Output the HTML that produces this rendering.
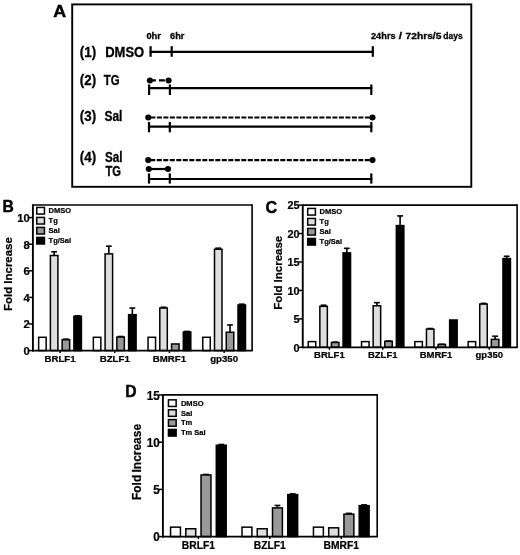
<!DOCTYPE html>
<html lang="en"><head><meta charset="utf-8"><title>Figure</title>
<style>html,body{margin:0;padding:0;background:#fff;}body{width:520px;height:555px;overflow:hidden;}svg{display:block;}text{font-family:"Liberation Sans", Arial, Helvetica, sans-serif;font-weight:bold;fill:#000;}</style></head><body>
<svg width="520" height="555" viewBox="0 0 520 555">
<rect x="0" y="0" width="520" height="555" fill="#fff"/>
<g id="panelA">
<text x="53.2" y="17" font-size="16.5" text-anchor="start" textLength="12.9" lengthAdjust="spacingAndGlyphs" stroke="#000" stroke-width="0.45">A</text>
<rect x="72.2" y="4.4" width="399.1" height="182.4" fill="none" stroke="#000" stroke-width="1.9"/>
<text x="146.4" y="39.4" font-size="9.4" text-anchor="start" textLength="14.5" lengthAdjust="spacingAndGlyphs" stroke="#000" stroke-width="0.3">0hr</text>
<text x="170.1" y="39.4" font-size="9.4" text-anchor="start" textLength="14.3" lengthAdjust="spacingAndGlyphs" stroke="#000" stroke-width="0.3">6hr</text>
<text x="371.0" y="39.4" font-size="9.4" text-anchor="start" textLength="24.6" lengthAdjust="spacingAndGlyphs" stroke="#000" stroke-width="0.3">24hrs</text>
<text x="398.7" y="39.4" font-size="9.4" text-anchor="start" textLength="3.3" lengthAdjust="spacingAndGlyphs" stroke="#000" stroke-width="0.3">/</text>
<text x="405.6" y="39.4" font-size="9.4" text-anchor="start" textLength="35.8" lengthAdjust="spacingAndGlyphs" stroke="#000" stroke-width="0.3">72hrs/5</text>
<text x="443.3" y="39.4" font-size="9.4" text-anchor="start" textLength="19.4" lengthAdjust="spacingAndGlyphs" stroke="#000" stroke-width="0.3">days</text>
<text x="79.8" y="56.7" font-size="13.8" text-anchor="start" textLength="16.3" lengthAdjust="spacingAndGlyphs" stroke="#000" stroke-width="0.3">(1)</text>
<text x="105.2" y="56.7" font-size="13.8" text-anchor="start" textLength="39" lengthAdjust="spacingAndGlyphs" stroke="#000" stroke-width="0.3">DMSO</text>
<line x1="149.6" y1="51.9" x2="373.8" y2="51.9" stroke="#000" stroke-width="2.2" />
<line x1="150.6" y1="46.2" x2="150.6" y2="56.8" stroke="#000" stroke-width="2.2" />
<line x1="171.7" y1="46.2" x2="171.7" y2="56.8" stroke="#000" stroke-width="2.2" />
<line x1="372.8" y1="46.2" x2="372.8" y2="56.8" stroke="#000" stroke-width="2.2" />
<text x="79.8" y="85.4" font-size="13.8" text-anchor="start" textLength="16.3" lengthAdjust="spacingAndGlyphs" stroke="#000" stroke-width="0.3">(2)</text>
<text x="103.8" y="85.4" font-size="13.8" text-anchor="start" textLength="15.8" lengthAdjust="spacingAndGlyphs" stroke="#000" stroke-width="0.3">TG</text>
<circle cx="149.9" cy="80.45" r="3.05" fill="#000"/>
<circle cx="168.6" cy="80.45" r="3.05" fill="#000"/>
<line x1="149.9" y1="80.45" x2="168" y2="80.45" stroke="#000" stroke-width="2.2" stroke-dasharray="6 3"/>
<line x1="148.1" y1="88.2" x2="372.3" y2="88.2" stroke="#000" stroke-width="2.2" />
<line x1="149.1" y1="84.5" x2="149.1" y2="95" stroke="#000" stroke-width="2.2" />
<line x1="169.9" y1="84.5" x2="169.9" y2="95" stroke="#000" stroke-width="2.2" />
<line x1="371.3" y1="84.5" x2="371.3" y2="95" stroke="#000" stroke-width="2.2" />
<text x="79.8" y="120.9" font-size="13.8" text-anchor="start" textLength="16.3" lengthAdjust="spacingAndGlyphs" stroke="#000" stroke-width="0.3">(3)</text>
<text x="104.4" y="120.9" font-size="13.8" text-anchor="start" textLength="18" lengthAdjust="spacingAndGlyphs" stroke="#000" stroke-width="0.3">Sal</text>
<circle cx="148.3" cy="117.5" r="3.05" fill="#000"/>
<circle cx="372.5" cy="117.5" r="3.05" fill="#000"/>
<line x1="148.3" y1="117.5" x2="372.5" y2="117.5" stroke="#000" stroke-width="2.2" stroke-dasharray="5 1.5" stroke-dashoffset="-2.1"/>
<line x1="148.0" y1="126.6" x2="372.3" y2="126.6" stroke="#000" stroke-width="2.2" />
<line x1="149" y1="121.9" x2="149" y2="132.3" stroke="#000" stroke-width="2.2" />
<line x1="169.8" y1="121.9" x2="169.8" y2="132.3" stroke="#000" stroke-width="2.2" />
<line x1="371.3" y1="121.9" x2="371.3" y2="132.3" stroke="#000" stroke-width="2.2" />
<text x="79.8" y="162.3" font-size="13.8" text-anchor="start" textLength="16.3" lengthAdjust="spacingAndGlyphs" stroke="#000" stroke-width="0.3">(4)</text>
<text x="104.9" y="162.3" font-size="13.8" text-anchor="start" textLength="17.5" lengthAdjust="spacingAndGlyphs" stroke="#000" stroke-width="0.3">Sal</text>
<text x="105.4" y="175.5" font-size="13.8" text-anchor="start" textLength="15.6" lengthAdjust="spacingAndGlyphs" stroke="#000" stroke-width="0.3">TG</text>
<circle cx="148.2" cy="160.1" r="3.05" fill="#000"/>
<circle cx="372.5" cy="160.1" r="3.05" fill="#000"/>
<line x1="148.2" y1="160.1" x2="372.5" y2="160.1" stroke="#000" stroke-width="2.2" stroke-dasharray="5 1.5" stroke-dashoffset="-2.1"/>
<circle cx="148.8" cy="169.0" r="3.05" fill="#000"/>
<circle cx="168.0" cy="169.0" r="3.05" fill="#000"/>
<line x1="148.8" y1="169.0" x2="168.0" y2="169.0" stroke="#000" stroke-width="2.2" />
<line x1="148.0" y1="179" x2="372.3" y2="179" stroke="#000" stroke-width="2.2" />
<line x1="149" y1="173.4" x2="149" y2="183.6" stroke="#000" stroke-width="2.2" />
<line x1="169.8" y1="173.4" x2="169.8" y2="183.6" stroke="#000" stroke-width="2.2" />
<line x1="371.3" y1="173.4" x2="371.3" y2="183.6" stroke="#000" stroke-width="2.2" />
</g>
<g id="panelB">
<text transform="translate(2.40,212.00) scale(0.95,1)" font-size="16.5" text-anchor="start" stroke="#000" stroke-width="0.45" >B</text>
<line x1="32.9" y1="205.0" x2="252.1" y2="205.0" stroke="#000" stroke-width="1.65" />
<line x1="252.1" y1="204.2" x2="252.1" y2="350.6" stroke="#000" stroke-width="1.6" />
<rect x="38.65" y="337.30" width="7.50" height="13.30" fill="#ffffff" stroke="#000" stroke-width="1.5"/>
<line x1="54.15" y1="255.50" x2="54.15" y2="251.78" stroke="#000" stroke-width="1.6" />
<line x1="51.25" y1="251.78" x2="57.05" y2="251.78" stroke="#000" stroke-width="1.6" />
<rect x="50.40" y="255.50" width="7.50" height="95.10" fill="#dedede" stroke="#000" stroke-width="1.5"/>
<line x1="65.90" y1="339.69" x2="65.90" y2="339.16" stroke="#000" stroke-width="1.6" />
<line x1="63.00" y1="339.16" x2="68.80" y2="339.16" stroke="#000" stroke-width="1.6" />
<rect x="62.15" y="339.69" width="7.50" height="10.91" fill="#999999" stroke="#000" stroke-width="1.5"/>
<line x1="77.65" y1="316.29" x2="77.65" y2="315.75" stroke="#000" stroke-width="1.6" />
<line x1="74.75" y1="315.75" x2="80.55" y2="315.75" stroke="#000" stroke-width="1.6" />
<rect x="73.90" y="316.29" width="7.50" height="34.31" fill="#000000" stroke="#000" stroke-width="1.5"/>
<rect x="93.35" y="337.30" width="7.50" height="13.30" fill="#ffffff" stroke="#000" stroke-width="1.5"/>
<line x1="108.85" y1="253.91" x2="108.85" y2="246.20" stroke="#000" stroke-width="1.6" />
<line x1="105.95" y1="246.20" x2="111.75" y2="246.20" stroke="#000" stroke-width="1.6" />
<rect x="105.10" y="253.91" width="7.50" height="96.69" fill="#dedede" stroke="#000" stroke-width="1.5"/>
<line x1="120.60" y1="337.03" x2="120.60" y2="336.50" stroke="#000" stroke-width="1.6" />
<line x1="117.70" y1="336.50" x2="123.50" y2="336.50" stroke="#000" stroke-width="1.6" />
<rect x="116.85" y="337.03" width="7.50" height="13.57" fill="#999999" stroke="#000" stroke-width="1.5"/>
<line x1="132.35" y1="314.69" x2="132.35" y2="308.04" stroke="#000" stroke-width="1.6" />
<line x1="129.45" y1="308.04" x2="135.25" y2="308.04" stroke="#000" stroke-width="1.6" />
<rect x="128.60" y="314.69" width="7.50" height="35.91" fill="#000000" stroke="#000" stroke-width="1.5"/>
<rect x="148.05" y="337.30" width="7.50" height="13.30" fill="#ffffff" stroke="#000" stroke-width="1.5"/>
<line x1="163.55" y1="308.04" x2="163.55" y2="307.24" stroke="#000" stroke-width="1.6" />
<line x1="160.65" y1="307.24" x2="166.45" y2="307.24" stroke="#000" stroke-width="1.6" />
<rect x="159.80" y="308.04" width="7.50" height="42.56" fill="#dedede" stroke="#000" stroke-width="1.5"/>
<rect x="171.55" y="343.95" width="7.50" height="6.65" fill="#999999" stroke="#000" stroke-width="1.5"/>
<line x1="187.05" y1="331.98" x2="187.05" y2="331.45" stroke="#000" stroke-width="1.6" />
<line x1="184.15" y1="331.45" x2="189.95" y2="331.45" stroke="#000" stroke-width="1.6" />
<rect x="183.30" y="331.98" width="7.50" height="18.62" fill="#000000" stroke="#000" stroke-width="1.5"/>
<rect x="202.75" y="337.30" width="7.50" height="13.30" fill="#ffffff" stroke="#000" stroke-width="1.5"/>
<line x1="218.25" y1="249.25" x2="218.25" y2="248.19" stroke="#000" stroke-width="1.6" />
<line x1="215.35" y1="248.19" x2="221.15" y2="248.19" stroke="#000" stroke-width="1.6" />
<rect x="214.50" y="249.25" width="7.50" height="101.35" fill="#dedede" stroke="#000" stroke-width="1.5"/>
<line x1="230.00" y1="332.25" x2="230.00" y2="324.93" stroke="#000" stroke-width="1.6" />
<line x1="227.10" y1="324.93" x2="232.90" y2="324.93" stroke="#000" stroke-width="1.6" />
<rect x="226.25" y="332.25" width="7.50" height="18.35" fill="#999999" stroke="#000" stroke-width="1.5"/>
<line x1="241.75" y1="304.98" x2="241.75" y2="304.18" stroke="#000" stroke-width="1.6" />
<line x1="238.85" y1="304.18" x2="244.65" y2="304.18" stroke="#000" stroke-width="1.6" />
<rect x="238.00" y="304.98" width="7.50" height="45.62" fill="#000000" stroke="#000" stroke-width="1.5"/>
<line x1="32.9" y1="204.3" x2="32.9" y2="351.5" stroke="#000" stroke-width="1.9" />
<line x1="31.95" y1="350.6" x2="252.79999999999998" y2="350.6" stroke="#000" stroke-width="1.8" />
<line x1="28.7" y1="350.60" x2="32.9" y2="350.60" stroke="#000" stroke-width="1.5" />
<text transform="translate(29.70,355.08) scale(0.97,1)" font-size="11.6" text-anchor="end" stroke="#000" stroke-width="0.22" >0</text>
<line x1="28.7" y1="324.00" x2="32.9" y2="324.00" stroke="#000" stroke-width="1.5" />
<text transform="translate(29.70,328.48) scale(0.97,1)" font-size="11.6" text-anchor="end" stroke="#000" stroke-width="0.22" >2</text>
<line x1="28.7" y1="297.40" x2="32.9" y2="297.40" stroke="#000" stroke-width="1.5" />
<text transform="translate(29.70,301.88) scale(0.97,1)" font-size="11.6" text-anchor="end" stroke="#000" stroke-width="0.22" >4</text>
<line x1="28.7" y1="270.80" x2="32.9" y2="270.80" stroke="#000" stroke-width="1.5" />
<text transform="translate(29.70,275.28) scale(0.97,1)" font-size="11.6" text-anchor="end" stroke="#000" stroke-width="0.22" >6</text>
<line x1="28.7" y1="244.20" x2="32.9" y2="244.20" stroke="#000" stroke-width="1.5" />
<text transform="translate(29.70,248.68) scale(0.97,1)" font-size="11.6" text-anchor="end" stroke="#000" stroke-width="0.22" >8</text>
<line x1="28.7" y1="217.60" x2="32.9" y2="217.60" stroke="#000" stroke-width="1.5" />
<text transform="translate(29.70,222.08) scale(0.97,1)" font-size="11.6" text-anchor="end" stroke="#000" stroke-width="0.22" >10</text>
<line x1="60.02" y1="350.6" x2="60.02" y2="353.1" stroke="#000" stroke-width="1.5" />
<text transform="translate(60.02,361.80) scale(1.0,1)" font-size="9.7" text-anchor="middle" stroke="#000" stroke-width="0.22" >BRLF1</text>
<line x1="114.72" y1="350.6" x2="114.72" y2="353.1" stroke="#000" stroke-width="1.5" />
<text transform="translate(114.72,361.80) scale(1.0,1)" font-size="9.7" text-anchor="middle" stroke="#000" stroke-width="0.22" >BZLF1</text>
<line x1="169.43" y1="350.6" x2="169.43" y2="353.1" stroke="#000" stroke-width="1.5" />
<text transform="translate(169.43,361.80) scale(1.0,1)" font-size="9.7" text-anchor="middle" stroke="#000" stroke-width="0.22" >BMRF1</text>
<line x1="224.13" y1="350.6" x2="224.13" y2="353.1" stroke="#000" stroke-width="1.5" />
<text transform="translate(224.13,361.80) scale(1.0,1)" font-size="9.7" text-anchor="middle" stroke="#000" stroke-width="0.22" >gp350</text>
<text transform="translate(12.20,274.10) rotate(-90) scale(1.015,1)" font-size="11.3" text-anchor="middle" stroke="#000" stroke-width="0.22" word-spacing="0">Fold Increase</text>
<rect x="36.75" y="207.45" width="7.70" height="6.60" fill="#ffffff" stroke="#000" stroke-width="1.5"/>
<text transform="translate(48.60,213.25) scale(0.99,1)" font-size="7.6" text-anchor="start" stroke="#000" stroke-width="0.22" >DMSO</text>
<rect x="36.75" y="217.43" width="7.70" height="6.60" fill="#dedede" stroke="#000" stroke-width="1.5"/>
<text transform="translate(48.60,223.23) scale(0.99,1)" font-size="7.6" text-anchor="start" stroke="#000" stroke-width="0.22" >Tg</text>
<rect x="36.75" y="227.41" width="7.70" height="6.60" fill="#999999" stroke="#000" stroke-width="1.5"/>
<text transform="translate(48.60,233.21) scale(0.99,1)" font-size="7.6" text-anchor="start" stroke="#000" stroke-width="0.22" >Sal</text>
<rect x="36.75" y="237.39" width="7.70" height="6.60" fill="#000000" stroke="#000" stroke-width="1.5"/>
<text transform="translate(48.60,243.19) scale(0.99,1)" font-size="7.6" text-anchor="start" stroke="#000" stroke-width="0.22" >Tg/Sal</text>
</g>
<g id="panelC">
<text transform="translate(265.40,212.70) scale(0.95,1)" font-size="17" text-anchor="start" stroke="#000" stroke-width="0.45" >C</text>
<line x1="302.75" y1="205.1" x2="517.1" y2="205.1" stroke="#000" stroke-width="1.65" />
<line x1="517.1" y1="204.29999999999998" x2="517.1" y2="347.3" stroke="#000" stroke-width="1.6" />
<rect x="308.25" y="341.61" width="7.50" height="5.69" fill="#ffffff" stroke="#000" stroke-width="1.5"/>
<line x1="323.60" y1="306.35" x2="323.60" y2="305.21" stroke="#000" stroke-width="1.6" />
<line x1="320.70" y1="305.21" x2="326.50" y2="305.21" stroke="#000" stroke-width="1.6" />
<rect x="319.85" y="306.35" width="7.50" height="40.95" fill="#dedede" stroke="#000" stroke-width="1.5"/>
<line x1="335.20" y1="342.47" x2="335.20" y2="342.18" stroke="#000" stroke-width="1.6" />
<line x1="332.30" y1="342.18" x2="338.10" y2="342.18" stroke="#000" stroke-width="1.6" />
<rect x="331.45" y="342.47" width="7.50" height="4.83" fill="#999999" stroke="#000" stroke-width="1.5"/>
<line x1="346.80" y1="252.88" x2="346.80" y2="248.33" stroke="#000" stroke-width="1.6" />
<line x1="343.90" y1="248.33" x2="349.70" y2="248.33" stroke="#000" stroke-width="1.6" />
<rect x="343.05" y="252.88" width="7.50" height="94.42" fill="#000000" stroke="#000" stroke-width="1.5"/>
<rect x="361.55" y="341.61" width="7.50" height="5.69" fill="#ffffff" stroke="#000" stroke-width="1.5"/>
<line x1="376.90" y1="305.78" x2="376.90" y2="302.65" stroke="#000" stroke-width="1.6" />
<line x1="374.00" y1="302.65" x2="379.80" y2="302.65" stroke="#000" stroke-width="1.6" />
<rect x="373.15" y="305.78" width="7.50" height="41.52" fill="#dedede" stroke="#000" stroke-width="1.5"/>
<line x1="388.50" y1="341.33" x2="388.50" y2="341.04" stroke="#000" stroke-width="1.6" />
<line x1="385.60" y1="341.04" x2="391.40" y2="341.04" stroke="#000" stroke-width="1.6" />
<rect x="384.75" y="341.33" width="7.50" height="5.97" fill="#999999" stroke="#000" stroke-width="1.5"/>
<line x1="400.10" y1="225.58" x2="400.10" y2="215.91" stroke="#000" stroke-width="1.6" />
<line x1="397.20" y1="215.91" x2="403.00" y2="215.91" stroke="#000" stroke-width="1.6" />
<rect x="396.35" y="225.58" width="7.50" height="121.72" fill="#000000" stroke="#000" stroke-width="1.5"/>
<rect x="414.85" y="341.61" width="7.50" height="5.69" fill="#ffffff" stroke="#000" stroke-width="1.5"/>
<line x1="430.20" y1="329.10" x2="430.20" y2="328.53" stroke="#000" stroke-width="1.6" />
<line x1="427.30" y1="328.53" x2="433.10" y2="328.53" stroke="#000" stroke-width="1.6" />
<rect x="426.45" y="329.10" width="7.50" height="18.20" fill="#dedede" stroke="#000" stroke-width="1.5"/>
<line x1="441.80" y1="344.46" x2="441.80" y2="344.29" stroke="#000" stroke-width="1.6" />
<line x1="438.90" y1="344.29" x2="444.70" y2="344.29" stroke="#000" stroke-width="1.6" />
<rect x="438.05" y="344.46" width="7.50" height="2.84" fill="#999999" stroke="#000" stroke-width="1.5"/>
<rect x="449.65" y="320.00" width="7.50" height="27.30" fill="#000000" stroke="#000" stroke-width="1.5"/>
<rect x="468.15" y="341.61" width="7.50" height="5.69" fill="#ffffff" stroke="#000" stroke-width="1.5"/>
<line x1="483.50" y1="304.07" x2="483.50" y2="303.39" stroke="#000" stroke-width="1.6" />
<line x1="480.60" y1="303.39" x2="486.40" y2="303.39" stroke="#000" stroke-width="1.6" />
<rect x="479.75" y="304.07" width="7.50" height="43.23" fill="#dedede" stroke="#000" stroke-width="1.5"/>
<line x1="495.10" y1="339.34" x2="495.10" y2="336.21" stroke="#000" stroke-width="1.6" />
<line x1="492.20" y1="336.21" x2="498.00" y2="336.21" stroke="#000" stroke-width="1.6" />
<rect x="491.35" y="339.34" width="7.50" height="7.96" fill="#999999" stroke="#000" stroke-width="1.5"/>
<line x1="506.70" y1="258.57" x2="506.70" y2="256.29" stroke="#000" stroke-width="1.6" />
<line x1="503.80" y1="256.29" x2="509.60" y2="256.29" stroke="#000" stroke-width="1.6" />
<rect x="502.95" y="258.57" width="7.50" height="88.73" fill="#000000" stroke="#000" stroke-width="1.5"/>
<line x1="302.75" y1="204.4" x2="302.75" y2="348.2" stroke="#000" stroke-width="1.9" />
<line x1="301.8" y1="347.3" x2="517.8000000000001" y2="347.3" stroke="#000" stroke-width="1.8" />
<line x1="298.55" y1="347.30" x2="302.75" y2="347.30" stroke="#000" stroke-width="1.5" />
<text transform="translate(299.55,351.63) scale(0.97,1)" font-size="11.2" text-anchor="end" stroke="#000" stroke-width="0.22" >0</text>
<line x1="298.55" y1="318.86" x2="302.75" y2="318.86" stroke="#000" stroke-width="1.5" />
<text transform="translate(299.55,323.19) scale(0.97,1)" font-size="11.2" text-anchor="end" stroke="#000" stroke-width="0.22" >5</text>
<line x1="298.55" y1="290.42" x2="302.75" y2="290.42" stroke="#000" stroke-width="1.5" />
<text transform="translate(299.55,294.75) scale(0.97,1)" font-size="11.2" text-anchor="end" stroke="#000" stroke-width="0.22" >10</text>
<line x1="298.55" y1="261.98" x2="302.75" y2="261.98" stroke="#000" stroke-width="1.5" />
<text transform="translate(299.55,266.31) scale(0.97,1)" font-size="11.2" text-anchor="end" stroke="#000" stroke-width="0.22" >15</text>
<line x1="298.55" y1="233.54" x2="302.75" y2="233.54" stroke="#000" stroke-width="1.5" />
<text transform="translate(299.55,237.87) scale(0.97,1)" font-size="11.2" text-anchor="end" stroke="#000" stroke-width="0.22" >20</text>
<line x1="298.55" y1="205.10" x2="302.75" y2="205.10" stroke="#000" stroke-width="1.5" />
<text transform="translate(299.55,209.43) scale(0.97,1)" font-size="11.2" text-anchor="end" stroke="#000" stroke-width="0.22" >25</text>
<line x1="329.40" y1="347.3" x2="329.40" y2="349.8" stroke="#000" stroke-width="1.5" />
<text transform="translate(329.40,358.30) scale(1.0,1)" font-size="9.5" text-anchor="middle" stroke="#000" stroke-width="0.22" >BRLF1</text>
<line x1="382.70" y1="347.3" x2="382.70" y2="349.8" stroke="#000" stroke-width="1.5" />
<text transform="translate(382.70,358.30) scale(1.0,1)" font-size="9.5" text-anchor="middle" stroke="#000" stroke-width="0.22" >BZLF1</text>
<line x1="436.00" y1="347.3" x2="436.00" y2="349.8" stroke="#000" stroke-width="1.5" />
<text transform="translate(436.00,358.30) scale(1.0,1)" font-size="9.5" text-anchor="middle" stroke="#000" stroke-width="0.22" >BMRF1</text>
<line x1="489.30" y1="347.3" x2="489.30" y2="349.8" stroke="#000" stroke-width="1.5" />
<text transform="translate(489.30,358.30) scale(1.0,1)" font-size="9.5" text-anchor="middle" stroke="#000" stroke-width="0.22" >gp350</text>
<text transform="translate(281.90,272.80) rotate(-90) scale(1.015,1)" font-size="11.3" text-anchor="middle" stroke="#000" stroke-width="0.22" word-spacing="0">Fold Increase</text>
<rect x="307.70" y="208.45" width="7.70" height="6.60" fill="#ffffff" stroke="#000" stroke-width="1.5"/>
<text transform="translate(319.55,214.25) scale(0.99,1)" font-size="7.6" text-anchor="start" stroke="#000" stroke-width="0.22" >DMSO</text>
<rect x="307.70" y="218.45" width="7.70" height="6.60" fill="#dedede" stroke="#000" stroke-width="1.5"/>
<text transform="translate(319.55,224.25) scale(0.99,1)" font-size="7.6" text-anchor="start" stroke="#000" stroke-width="0.22" >Tg</text>
<rect x="307.70" y="228.45" width="7.70" height="6.60" fill="#999999" stroke="#000" stroke-width="1.5"/>
<text transform="translate(319.55,234.25) scale(0.99,1)" font-size="7.6" text-anchor="start" stroke="#000" stroke-width="0.22" >Sal</text>
<rect x="307.70" y="238.45" width="7.70" height="6.60" fill="#000000" stroke="#000" stroke-width="1.5"/>
<text transform="translate(319.55,244.25) scale(0.99,1)" font-size="7.6" text-anchor="start" stroke="#000" stroke-width="0.22" >Tg/Sal</text>
</g>
<g id="panelD">
<text transform="translate(125.30,397.10) scale(0.95,1)" font-size="16.5" text-anchor="start" stroke="#000" stroke-width="0.45" >D</text>
<line x1="162.9" y1="394.9" x2="377.2" y2="394.9" stroke="#000" stroke-width="1.65" />
<line x1="377.2" y1="394.09999999999997" x2="377.2" y2="536.6" stroke="#000" stroke-width="1.6" />
<rect x="170.55" y="527.16" width="9.90" height="9.44" fill="#ffffff" stroke="#000" stroke-width="1.5"/>
<rect x="185.80" y="528.76" width="9.90" height="7.84" fill="#dedede" stroke="#000" stroke-width="1.5"/>
<line x1="206.00" y1="474.96" x2="206.00" y2="474.48" stroke="#000" stroke-width="1.6" />
<line x1="203.10" y1="474.48" x2="208.90" y2="474.48" stroke="#000" stroke-width="1.6" />
<rect x="201.05" y="474.96" width="9.90" height="61.64" fill="#999999" stroke="#000" stroke-width="1.5"/>
<line x1="221.25" y1="445.22" x2="221.25" y2="444.47" stroke="#000" stroke-width="1.6" />
<line x1="218.35" y1="444.47" x2="224.15" y2="444.47" stroke="#000" stroke-width="1.6" />
<rect x="216.30" y="445.22" width="9.90" height="91.38" fill="#000000" stroke="#000" stroke-width="1.5"/>
<rect x="242.00" y="527.16" width="9.90" height="9.44" fill="#ffffff" stroke="#000" stroke-width="1.5"/>
<rect x="257.25" y="528.76" width="9.90" height="7.84" fill="#dedede" stroke="#000" stroke-width="1.5"/>
<line x1="277.45" y1="507.90" x2="277.45" y2="505.45" stroke="#000" stroke-width="1.6" />
<line x1="274.55" y1="505.45" x2="280.35" y2="505.45" stroke="#000" stroke-width="1.6" />
<rect x="272.50" y="507.90" width="9.90" height="28.70" fill="#999999" stroke="#000" stroke-width="1.5"/>
<line x1="292.70" y1="494.59" x2="292.70" y2="493.84" stroke="#000" stroke-width="1.6" />
<line x1="289.80" y1="493.84" x2="295.60" y2="493.84" stroke="#000" stroke-width="1.6" />
<rect x="287.75" y="494.59" width="9.90" height="42.01" fill="#000000" stroke="#000" stroke-width="1.5"/>
<rect x="313.45" y="527.16" width="9.90" height="9.44" fill="#ffffff" stroke="#000" stroke-width="1.5"/>
<rect x="328.70" y="527.82" width="9.90" height="8.78" fill="#dedede" stroke="#000" stroke-width="1.5"/>
<line x1="348.90" y1="514.13" x2="348.90" y2="513.38" stroke="#000" stroke-width="1.6" />
<line x1="346.00" y1="513.38" x2="351.80" y2="513.38" stroke="#000" stroke-width="1.6" />
<rect x="343.95" y="514.13" width="9.90" height="22.47" fill="#999999" stroke="#000" stroke-width="1.5"/>
<line x1="364.15" y1="505.64" x2="364.15" y2="504.88" stroke="#000" stroke-width="1.6" />
<line x1="361.25" y1="504.88" x2="367.05" y2="504.88" stroke="#000" stroke-width="1.6" />
<rect x="359.20" y="505.64" width="9.90" height="30.96" fill="#000000" stroke="#000" stroke-width="1.5"/>
<line x1="162.9" y1="394.2" x2="162.9" y2="537.5" stroke="#000" stroke-width="1.9" />
<line x1="161.95000000000002" y1="536.6" x2="377.9" y2="536.6" stroke="#000" stroke-width="1.8" />
<line x1="158.70000000000002" y1="536.60" x2="162.9" y2="536.60" stroke="#000" stroke-width="1.5" />
<text transform="translate(159.70,541.22) scale(0.97,1)" font-size="12" text-anchor="end" stroke="#000" stroke-width="0.22" >0</text>
<line x1="158.70000000000002" y1="489.40" x2="162.9" y2="489.40" stroke="#000" stroke-width="1.5" />
<text transform="translate(159.70,494.02) scale(0.97,1)" font-size="12" text-anchor="end" stroke="#000" stroke-width="0.22" >5</text>
<line x1="158.70000000000002" y1="442.20" x2="162.9" y2="442.20" stroke="#000" stroke-width="1.5" />
<text transform="translate(159.70,446.82) scale(0.97,1)" font-size="12" text-anchor="end" stroke="#000" stroke-width="0.22" >10</text>
<line x1="158.70000000000002" y1="395.00" x2="162.9" y2="395.00" stroke="#000" stroke-width="1.5" />
<text transform="translate(159.70,399.62) scale(0.97,1)" font-size="12" text-anchor="end" stroke="#000" stroke-width="0.22" >15</text>
<line x1="198.38" y1="536.6" x2="198.38" y2="539.1" stroke="#000" stroke-width="1.5" />
<text transform="translate(198.38,548.90) scale(1.0,1)" font-size="10.3" text-anchor="middle" stroke="#000" stroke-width="0.22" >BRLF1</text>
<line x1="269.82" y1="536.6" x2="269.82" y2="539.1" stroke="#000" stroke-width="1.5" />
<text transform="translate(269.82,548.90) scale(1.0,1)" font-size="10.3" text-anchor="middle" stroke="#000" stroke-width="0.22" >BZLF1</text>
<line x1="341.28" y1="536.6" x2="341.28" y2="539.1" stroke="#000" stroke-width="1.5" />
<text transform="translate(341.28,548.90) scale(1.0,1)" font-size="10.3" text-anchor="middle" stroke="#000" stroke-width="0.22" >BMRF1</text>
<text transform="translate(140.85,462.00) rotate(-90) scale(0.95,1)" font-size="12.6" text-anchor="middle" stroke="#000" stroke-width="0.22" word-spacing="-1">Fold Increase</text>
<rect x="168.45" y="399.85" width="7.70" height="6.60" fill="#ffffff" stroke="#000" stroke-width="1.5"/>
<text transform="translate(180.95,405.65) scale(0.99,1)" font-size="7.6" text-anchor="start" stroke="#000" stroke-width="0.22" >DMSO</text>
<rect x="168.45" y="409.72" width="7.70" height="6.60" fill="#dedede" stroke="#000" stroke-width="1.5"/>
<text transform="translate(180.95,415.52) scale(0.99,1)" font-size="7.6" text-anchor="start" stroke="#000" stroke-width="0.22" >Sal</text>
<rect x="168.45" y="419.59" width="7.70" height="6.60" fill="#999999" stroke="#000" stroke-width="1.5"/>
<text transform="translate(180.95,425.39) scale(0.99,1)" font-size="7.6" text-anchor="start" stroke="#000" stroke-width="0.22" >Tm</text>
<rect x="168.45" y="429.46" width="7.70" height="6.60" fill="#000000" stroke="#000" stroke-width="1.5"/>
<text transform="translate(180.95,435.26) scale(0.99,1)" font-size="7.6" text-anchor="start" stroke="#000" stroke-width="0.22" >Tm Sal</text>
</g>
</svg></body></html>
